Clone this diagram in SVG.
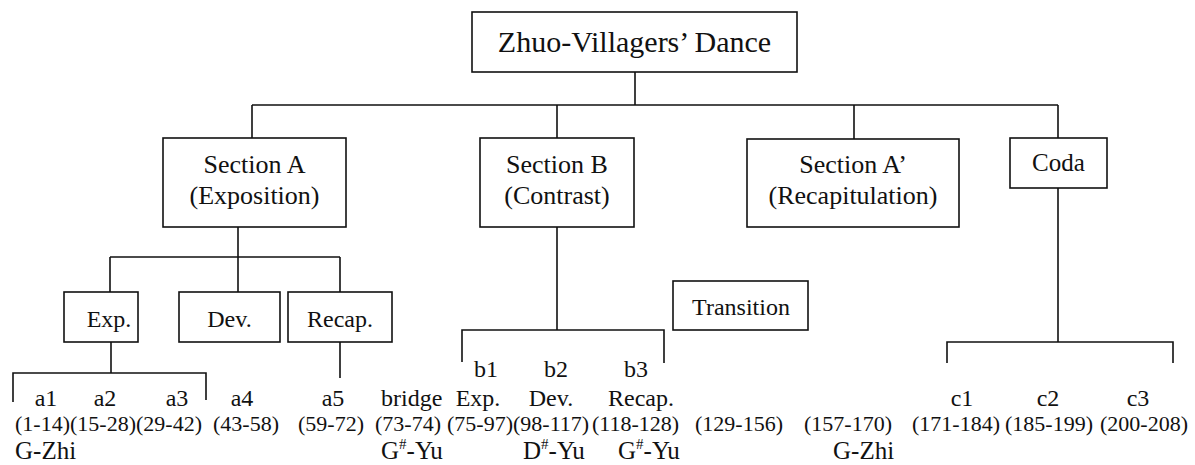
<svg xmlns="http://www.w3.org/2000/svg" width="1195" height="465" viewBox="0 0 1195 465">
<style>
.box{fill:#fff;stroke:#111;stroke-width:1.6}
.ln{fill:none;stroke:#111;stroke-width:1.6}
text{font-family:"Liberation Serif","Times New Roman",serif;fill:#111}
.t30{font-size:30px}
.t26{font-size:26px}
.t25{font-size:25px}
.t24{font-size:24px}
.t22{font-size:22px}
.m{text-anchor:middle}
.sup{font-size:15px}
</style>
<rect width="1195" height="465" fill="#fff"/>
<g id="connectors">
<path class="ln" d="M635 72V105M252 105H1058M252 105V138M557 105V138M854 105V139M1058 105V138"/>
<path class="ln" d="M238 227V292M110 257H340M110 257V292M340 257V292"/>
<path class="ln" d="M111 342V373M13 402V373H206V400M340 342V378"/>
<path class="ln" d="M557 227V330M462 362V330H664V363"/>
<path class="ln" d="M1058 188V342M947 363V342H1173V363"/>
</g>
<g id="root"><rect class="box" x="472" y="12" width="325" height="60"/><text class="t30 m" x="634.5" y="52">Zhuo-Villagers’ Dance</text></g>
<g id="sectionA"><rect class="box" x="163" y="138" width="183" height="89"/><text class="t26 m" x="254.5" y="173">Section A</text><text class="t26 m" x="254.5" y="204">(Exposition)</text></g>
<g id="sectionB"><rect class="box" x="480" y="138" width="154" height="89"/><text class="t26 m" x="557" y="173">Section B</text><text class="t26 m" x="557" y="204">(Contrast)</text></g>
<g id="sectionA2"><rect class="box" x="747" y="139" width="212" height="88"/><text class="t26 m" x="853" y="173">Section A’</text><text class="t26 m" x="853" y="204">(Recapitulation)</text></g>
<g id="coda"><rect class="box" x="1010" y="138" width="97" height="50"/><text class="t25 m" x="1058.5" y="171">Coda</text></g>
<g id="exp"><rect class="box" x="64" y="292" width="74" height="50"/><text class="t24 m" x="109" y="327">Exp.</text></g>
<g id="dev"><rect class="box" x="179" y="292" width="101" height="50"/><text class="t24 m" x="229.5" y="327">Dev.</text></g>
<g id="recap"><rect class="box" x="288" y="292" width="104" height="50"/><text class="t24 m" x="340" y="327">Recap.</text></g>
<g id="transition"><rect class="box" x="673" y="281" width="135" height="49"/><text class="t24 m" x="741" y="315">Transition</text></g>
<g id="labels">
<text class="t24 m" x="486" y="377">b1</text>
<text class="t24 m" x="556" y="377">b2</text>
<text class="t24 m" x="636" y="377">b3</text>
<text class="t24 m" x="46" y="406">a1</text>
<text class="t24 m" x="105" y="406">a2</text>
<text class="t24 m" x="177" y="406">a3</text>
<text class="t24 m" x="242" y="406">a4</text>
<text class="t24 m" x="333" y="406">a5</text>
<text class="t24" x="381" y="406">bridge</text>
<text class="t24 m" x="478" y="406">Exp.</text>
<text class="t24 m" x="551" y="406">Dev.</text>
<text class="t24 m" x="641" y="406">Recap.</text>
<text class="t24 m" x="962" y="406">c1</text>
<text class="t24 m" x="1048" y="406">c2</text>
<text class="t24 m" x="1138" y="406">c3</text>
<text class="t22" x="15" y="431">(1-14)</text>
<text class="t22" x="70" y="431">(15-28)</text>
<text class="t22" x="136" y="431">(29-42)</text>
<text class="t22" x="213" y="431">(43-58)</text>
<text class="t22" x="298" y="431">(59-72)</text>
<text class="t22" x="375" y="431">(73-74)</text>
<text class="t22" x="447" y="431">(75-97)</text>
<text class="t22" x="513" y="431">(98-117)</text>
<text class="t22" x="592" y="431">(118-128)</text>
<text class="t22" x="695" y="431">(129-156)</text>
<text class="t22" x="804" y="431">(157-170)</text>
<text class="t22" x="912" y="431">(171-184)</text>
<text class="t22" x="1005" y="431">(185-199)</text>
<text class="t22" x="1100" y="431">(200-208)</text>
<text class="t25" x="15" y="459">G-Zhi</text>
<text class="t25" x="381" y="459">G<tspan class="sup" dy="-10">#</tspan><tspan dy="10">-Yu</tspan></text>
<text class="t25" x="523" y="459">D<tspan class="sup" dy="-10">#</tspan><tspan dy="10">-Yu</tspan></text>
<text class="t25" x="618" y="459">G<tspan class="sup" dy="-10">#</tspan><tspan dy="10">-Yu</tspan></text>
<text class="t25" x="833" y="459">G-Zhi</text>
</g>
</svg>
